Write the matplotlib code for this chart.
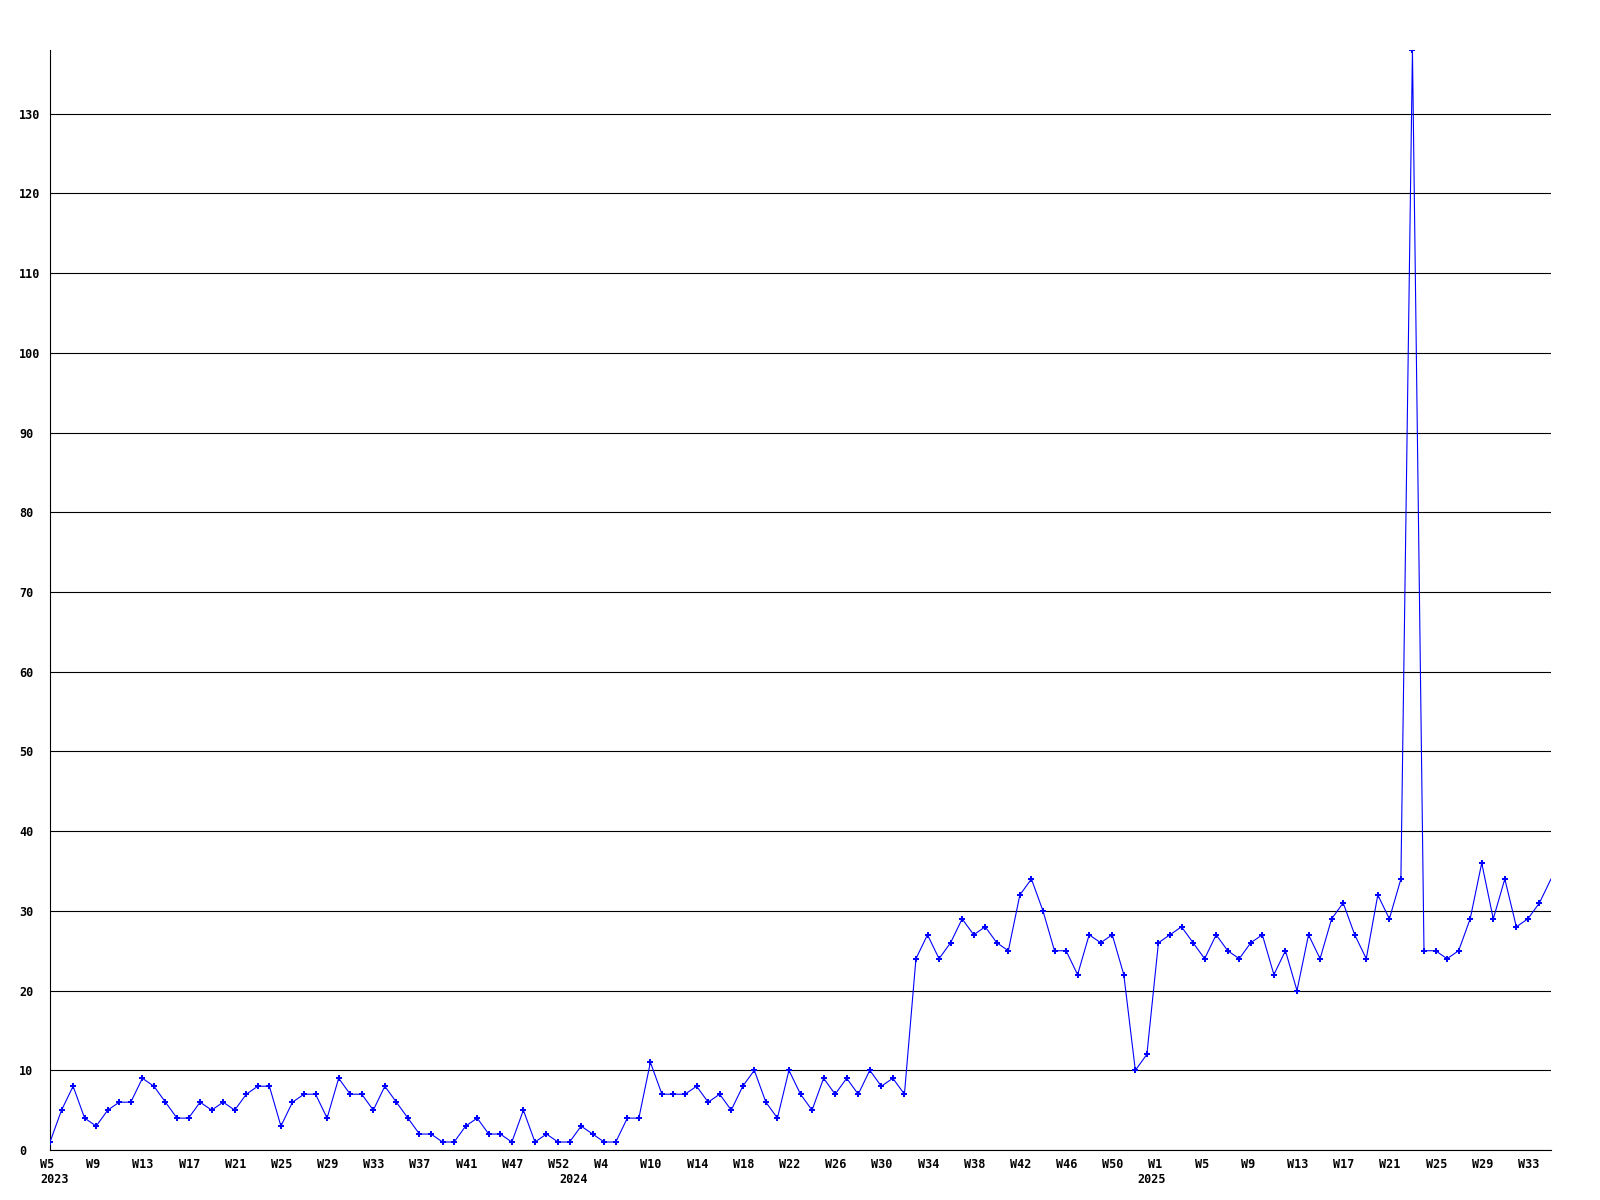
import matplotlib
matplotlib.use('Agg')
from matplotlib import pyplot as plt
from matplotlib.transforms import ScaledTranslation

# weekly counts, 2023 W5 .. 2025 W35 (one point per reported week)
values = [1, 5, 8, 4, 3, 5, 6, 6, 9, 8, 6, 4, 4, 6, 5, 6, 5, 7, 8, 8, 3, 6, 7, 7, 4, 9, 7, 7, 5, 8, 6, 4, 2,
          2, 1, 1, 3, 4, 2, 2, 1, 5, 1, 2, 1, 1, 3, 2, 1, 1, 4, 4, 11, 7, 7, 7, 8, 6, 7, 5, 8, 10, 6, 4, 10, 7, 5,
          9, 7, 9, 7, 10, 8, 9, 7, 24, 27, 24, 26, 29, 27, 28, 26, 25, 32, 34, 30, 25, 25, 22, 27, 26, 27, 22, 10, 12,
          26, 27, 28, 26, 24, 27,
          25, 24, 26, 27, 22, 25, 20, 27, 24, 29, 31, 27, 24, 32, 29, 34, 138, 25, 25, 24, 25, 29, 36, 29, 34, 28,
          29, 31, 34]

week_labels = ['W5', 'W9', 'W13', 'W17', 'W21', 'W25', 'W29', 'W33', 'W37', 'W41', 'W47', 'W52',
               'W4', 'W10', 'W14', 'W18', 'W22', 'W26', 'W30', 'W34', 'W38', 'W42', 'W46', 'W50',
               'W1', 'W5', 'W9', 'W13', 'W17', 'W21', 'W25', 'W29', 'W33']
year_labels = ['2023', '2024', '2025']
year_index = [0, 45, 95]

font = {'family': 'DejaVu Sans Mono', 'weight': 'bold', 'size': 8.5}

fig = plt.figure(figsize=(16, 12), dpi=100)
ax = fig.add_axes([50 / 1600, 50 / 1200, 1501 / 1600, 1100 / 1200])

x = list(range(len(values)))
# last week has no marker in the original (still in progress)
ax.plot(x, values, color='#0000ff', linewidth=0.8, marker='P', markersize=4,
        markeredgewidth=0, markevery=list(range(len(values) - 1)), zorder=3)

ax.set_xlim(0, len(values) - 1)
ax.set_ylim(0, 138)

# horizontal grid lines
ax.set_yticks(range(0, 131, 10))
ax.yaxis.grid(True, color='black', linewidth=0.8)
ax.set_axisbelow(True)

for side in ['top', 'right']:
    ax.spines[side].set_visible(False)
for side in ['left', 'bottom']:
    ax.spines[side].set_color('black')
    ax.spines[side].set_linewidth(0.8)

ax.tick_params(axis='both', length=0)
ax.tick_params(axis='y', pad=22.3)
ax.tick_params(axis='x', pad=5.8)

ax.set_yticklabels([str(v) for v in range(0, 131, 10)], fontdict=font)
for lab in ax.get_yticklabels():
    lab.set_ha('left')

ax.set_xticks(range(0, 4 * len(week_labels), 4))
ax.set_xticklabels(week_labels, fontdict=font)
shift = ScaledTranslation(-10 / 100, 0, fig.dpi_scale_trans)
for lab in ax.get_xticklabels():
    lab.set_ha('left')
    lab.set_transform(lab.get_transform() + shift)

# year labels under the first week of each year
for yr, idx in zip(year_labels, year_index):
    ax.annotate(yr, xy=(idx, 0), xycoords=('data', 'axes fraction'),
                xytext=(-7.2, -16.6), textcoords='offset points',
                ha='left', va='top', **font)

plt.savefig('out.png', dpi=100, facecolor='white')
